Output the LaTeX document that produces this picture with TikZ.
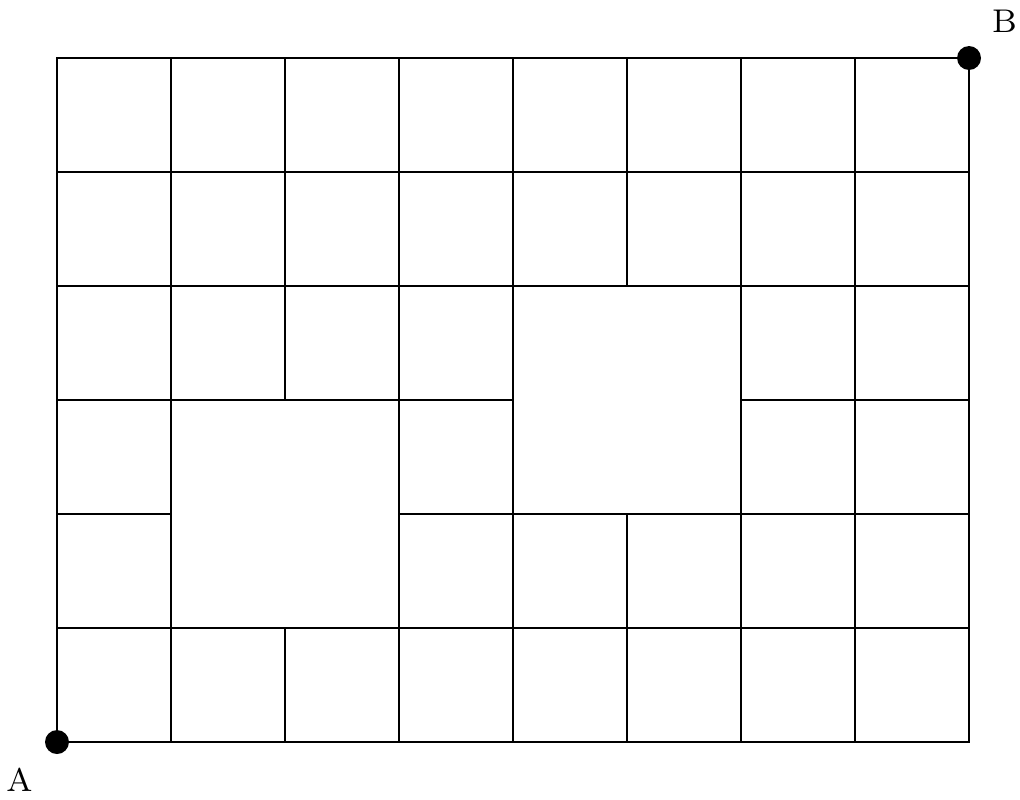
\documentclass[tikz,border=0pt]{standalone}
\usetikzlibrary{positioning}
\tikzset{
  grid line/.style={draw=black, line width=0.35pt},
  corner dot/.style={fill=black},
  corner label/.style={font=\fontsize{8.2}{10}\selectfont, text=black}
}
\begin{document}
\begin{tikzpicture}[x=1cm, y=1cm]
  \useasboundingbox (-0.5,-0.5) rectangle (8.447,6.509);
  \coordinate (A) at (0,0);
  \coordinate (B) at (8,6);
  % outer frame
  \draw[grid line] (A) rectangle (B);
  % horizontal segments
  \foreach \y/\a/\b in {1/0/8, 2/0/1, 2/3/8, 3/0/4, 3/6/8, 4/0/8, 5/0/8} {
    \draw[grid line] (\a,\y) -- (\b,\y);
  }
  % vertical segments
  \foreach \x/\a/\b in {1/0/6, 2/0/1, 2/3/6, 3/0/6, 4/0/6, 5/0/2, 5/4/6, 6/0/6, 7/0/6} {
    \draw[grid line] (\x,\a) -- (\x,\b);
  }
  \fill[corner dot] (A) circle (0.105);
  \fill[corner dot] (B) circle (0.105);
  \node[corner label] (labA) at (-0.33,-0.33) {A};
  \node[corner label] (labB) at (8.31,6.32) {B};
\end{tikzpicture}
\end{document}
